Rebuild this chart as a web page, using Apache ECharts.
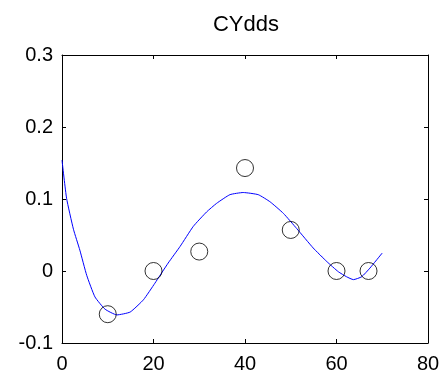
<!DOCTYPE html>
<html>
<head>
<meta charset="utf-8">
<script src="https://cdn.jsdelivr.net/npm/echarts@6/dist/echarts.min.js"></script>
<style>
  html, body { margin: 0; padding: 0; background: #fff; }
  #chart { width: 445px; height: 379px; }
</style>
</head>
<body>
<div id="chart"></div>
<script>
// measured points (circles)
var pointX = [10, 20, 30, 40, 50, 60, 67];
var pointY = [-0.06, 0, 0.027, 0.143, 0.057, 0, 0];

// fitted curve (blue)
var curveX = [0, 1.0, 2.5, 3.9, 5.4, 7.2, 9.4, 12.0, 14.9, 17.8, 20.3, 23.2, 25.8, 28.7, 31.6, 33.8, 36.7, 39.6, 42.9, 45.5, 48.4, 51.3, 54.9, 57.9, 60.4, 62.2, 63.7, 65.5, 67.3, 70];
var curveY = [0.154, 0.101, 0.058, 0.029, -0.006, -0.036, -0.053, -0.061, -0.057, -0.040, -0.017, 0.011, 0.034, 0.062, 0.082, 0.094, 0.106, 0.109, 0.106, 0.096, 0.080, 0.059, 0.032, 0.013, -0.001, -0.008, -0.012, -0.008, 0.004, 0.025];

var xTicks = { min: 0, max: 80, interval: 20 };
var yTicks = { min: -0.1, max: 0.3, interval: 0.1 };

function zip(xs, ys) {
    return xs.map(function (x, i) { return [x, ys[i]]; });
}

function fmtY(v) {
    if (Math.abs(v) < 1e-9) return '0';
    return String(+v.toFixed(1));
}

var font = 'Liberation Sans, Arial, sans-serif';
var boxLine = { show: true, onZero: false, lineStyle: { color: '#000', width: 1 } };
var tickIn = { show: true, inside: true, length: 4, lineStyle: { color: '#000' } };

var chart = echarts.init(document.getElementById('chart'));
chart.setOption({
    animation: false,
    backgroundColor: '#fff',
    title: {
        text: 'CYdds',
        left: 241,
        textAlign: 'center',
        top: 9,
        textStyle: { fontFamily: font, fontSize: 22, fontWeight: 'normal', color: '#000' }
    },
    grid: { left: 62, right: 17, top: 55, bottom: 36, containLabel: false },
    xAxis: [{
        type: 'value',
        min: xTicks.min, max: xTicks.max, interval: xTicks.interval,
        axisLine: boxLine, axisTick: tickIn, splitLine: { show: false },
        axisLabel: { color: '#000', fontFamily: font, fontSize: 20, margin: 11 }
    }, {
        type: 'value', position: 'top',
        min: xTicks.min, max: xTicks.max, interval: xTicks.interval,
        axisLine: boxLine, axisTick: tickIn, splitLine: { show: false },
        axisLabel: { show: false }
    }],
    yAxis: [{
        type: 'value',
        min: yTicks.min, max: yTicks.max, interval: yTicks.interval,
        axisLine: boxLine, axisTick: tickIn, splitLine: { show: false },
        axisLabel: { color: '#000', fontFamily: font, fontSize: 20, margin: 9, formatter: fmtY }
    }, {
        type: 'value', position: 'right',
        min: yTicks.min, max: yTicks.max, interval: yTicks.interval,
        axisLine: boxLine, axisTick: tickIn, splitLine: { show: false },
        axisLabel: { show: false }
    }],
    series: [{
        type: 'line',
        data: zip(curveX, curveY),
        showSymbol: false,
        smooth: 0.15,
        lineStyle: { color: '#0000ff', width: 1 },
        z: 2
    }, {
        type: 'scatter',
        data: zip(pointX, pointY),
        symbol: 'circle',
        symbolSize: 17,
        itemStyle: { color: 'rgba(0,0,0,0)', borderColor: '#000', borderWidth: 1 },
        z: 3
    }]
});
</script>
</body>
</html>
